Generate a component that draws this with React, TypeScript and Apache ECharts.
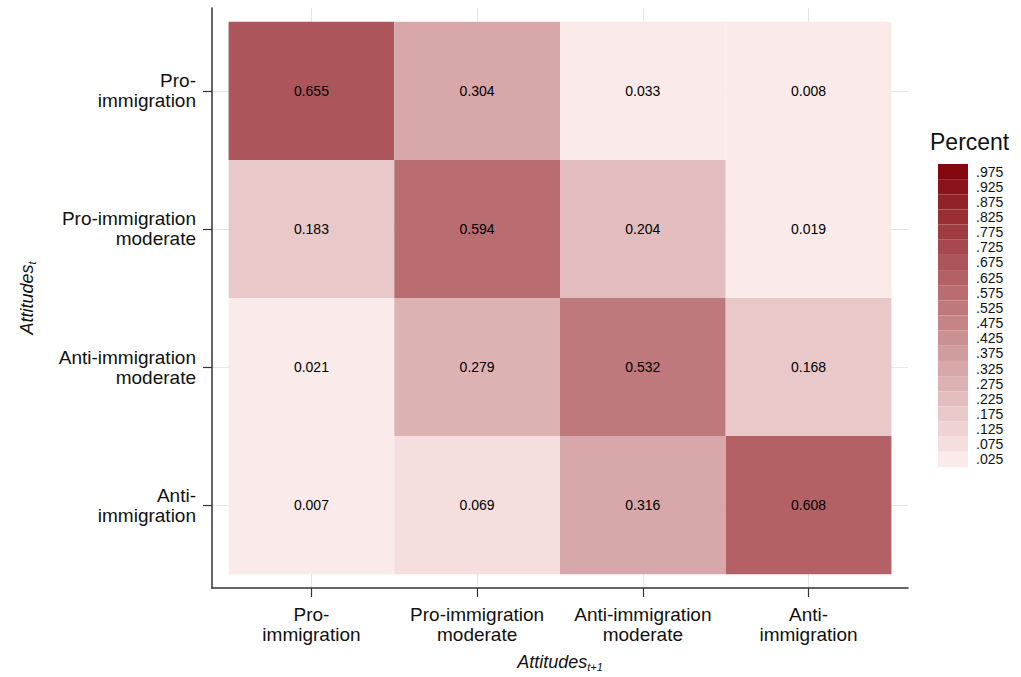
import React, { useEffect, useRef } from "react";
import * as echarts from "echarts";

// Categories (Attitudes_t rows, Attitudes_t+1 columns)
const ROW_LABELS = ["Pro-\nimmigration", "Pro-immigration\nmoderate", "Anti-immigration\nmoderate", "Anti-\nimmigration"];
const COL_LABELS = ["Pro-\nimmigration", "Pro-immigration\nmoderate", "Anti-immigration\nmoderate", "Anti-\nimmigration"];
const TICK_POSITIONS = [1, 2, 3, 4];

// Transition proportions, one array per origin row
const ROW_PRO = [0.655, 0.304, 0.033, 0.008];
const ROW_PRO_MOD = [0.183, 0.594, 0.204, 0.019];
const ROW_ANTI_MOD = [0.021, 0.279, 0.532, 0.168];
const ROW_ANTI = [0.007, 0.069, 0.316, 0.608];
const ROWS = [ROW_PRO, ROW_PRO_MOD, ROW_ANTI_MOD, ROW_ANTI];

// Legend tick labels (bin midpoints)
const LEGEND_LABELS = [".025", ".075", ".125", ".175", ".225", ".275", ".325", ".375", ".425", ".475",
  ".525", ".575", ".625", ".675", ".725", ".775", ".825", ".875", ".925", ".975"];

const FONT = "'Liberation Sans', Arial, Helvetica, sans-serif";

function shade(v: number): string {
  const t = 0.92 * v + 0.08 * v * v * v;
  const lo = [253, 239, 238];
  const hi = [128, 0, 8];
  const c = lo.map((l, i) => Math.round(l + (hi[i] - l) * t));
  return `rgb(${c[0]},${c[1]},${c[2]})`;
}

export default function App() {
  const ref = useRef<HTMLDivElement>(null);
  useEffect(() => {
    if (!ref.current) return;
    const chart = echarts.init(ref.current, undefined, { renderer: "svg" });
    const data: number[][] = [];
    ROWS.forEach((row, r) => row.forEach((v, c) => data.push([c + 1, r + 1, v])));
    const pieces = LEGEND_LABELS.map((lab) => {
      const mid = parseFloat(lab);
      return { min: mid - 0.025, max: mid + 0.025, label: lab, color: shade(mid) };
    });
    const axisCommon = {
      type: "value" as const,
      min: 0.4,
      max: 4.6,
      axisLine: { show: true, onZero: false, lineStyle: { color: "#333", width: 1.5 } },
      axisTick: { show: true, length: 9, customValues: TICK_POSITIONS, lineStyle: { color: "#333", width: 1.2 } },
      splitLine: { show: true, lineStyle: { color: "#e6e6e6", width: 1 } },
    };
    const nameRich = {
      a: { fontSize: 18, fontStyle: "italic", fontFamily: FONT, color: "#111", lineHeight: 21 },
      b: { fontSize: 11, fontStyle: "italic", fontFamily: FONT, color: "#111", lineHeight: 6, verticalAlign: "bottom" },
    };
    chart.setOption({
      animation: false,
      backgroundColor: "#fff",
      title: {
        text: "Percent",
        left: 930,
        top: 130,
        textStyle: { fontSize: 23, fontWeight: "normal", fontFamily: FONT, color: "#111" },
        padding: 0,
      },
      grid: { left: 212, right: 113, top: 8, bottom: 88 },
      xAxis: {
        ...axisCommon,
        position: "bottom",
        name: "{a|Attitudes}{b|t+1}",
        nameLocation: "middle",
        nameGap: 63,
        nameTextStyle: { rich: nameRich },
        axisLabel: {
          customValues: TICK_POSITIONS,
          formatter: (v: number) => COL_LABELS[Math.round(v) - 1] ?? "",
          fontSize: 19,
          lineHeight: 20,
          fontFamily: FONT,
          color: "#111",
          margin: 16,
        },
      },
      yAxis: {
        ...axisCommon,
        inverse: true,
        position: "left",
        name: "{a|Attitudes}{b|t}",
        nameLocation: "middle",
        nameRotate: 90,
        nameGap: 175,
        nameTextStyle: { rich: nameRich },
        axisLabel: {
          customValues: TICK_POSITIONS,
          formatter: (v: number) => ROW_LABELS[Math.round(v) - 1] ?? "",
          fontSize: 19,
          lineHeight: 20,
          fontFamily: FONT,
          color: "#111",
          margin: 16,
        },
      },
      visualMap: {
        type: "piecewise",
        pieces,
        dimension: 2,
        seriesIndex: 0,
        orient: "vertical",
        align: "left",
        left: 938,
        top: 164,
        itemWidth: 30,
        itemHeight: 15.15,
        itemGap: 0,
        itemSymbol: "rect",
        textGap: 8,
        hoverLink: false,
        selectedMode: false,
        padding: 0,
        textStyle: { fontSize: 14, fontFamily: FONT, color: "#111" },
      },
      series: [
        {
          type: "custom",
          encode: { x: 0, y: 1 },
          data,
          renderItem: (params: any, api: any) => {
            const x = api.value(0);
            const y = api.value(1);
            const v = api.value(2);
            const p0 = api.coord([x - 0.5, y - 0.5]);
            const p1 = api.coord([x + 0.5, y + 0.5]);
            const c = api.coord([x, y]);
            return {
              type: "group",
              children: [
                {
                  type: "rect",
                  shape: {
                    x: Math.min(p0[0], p1[0]),
                    y: Math.min(p0[1], p1[1]),
                    width: Math.abs(p1[0] - p0[0]),
                    height: Math.abs(p1[1] - p0[1]),
                  },
                  style: { fill: api.visual("color"), stroke: null },
                },
                {
                  type: "text",
                  style: {
                    text: v.toFixed(3),
                    x: c[0],
                    y: c[1],
                    align: "center",
                    verticalAlign: "middle",
                    fontSize: 14,
                    fontFamily: FONT,
                    fill: "#000",
                  },
                },
              ],
            };
          },
        },
      ],
    });
    return () => chart.dispose();
  }, []);
  return <div ref={ref} style={{ position: "absolute", left: 0, top: 0, width: 1021, height: 677 }} />;
}
